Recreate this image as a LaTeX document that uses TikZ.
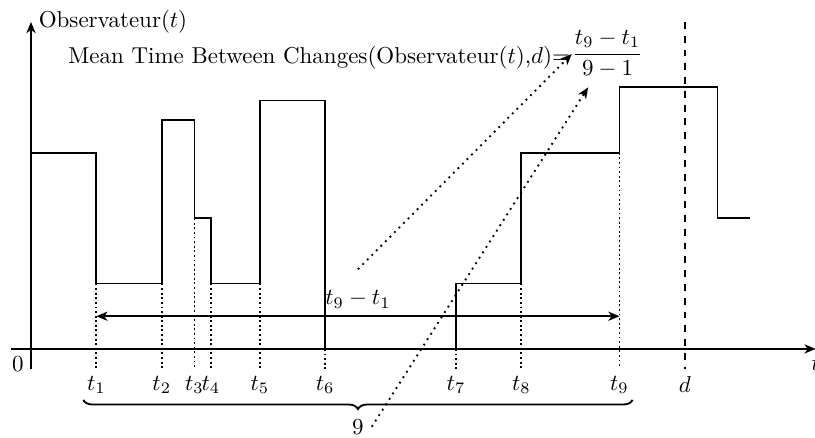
\documentclass[tikz,border=0pt]{standalone}
\usetikzlibrary{arrows.meta,decorations.pathreplacing}
\begin{document}
\begin{tikzpicture}[>={Stealth[length=1.7mm,width=1.4mm,inset=0.5mm]},
  axis/.style={thick,->},
  fn/.style={thick},
  guide/.style={line width=0.8pt,dash pattern=on 0.8pt off 1.2pt},
  ptr/.style={dotted,thick,->},
  lab/.style={inner sep=3pt}]
\useasboundingbox (-0.474,-1.361) rectangle (11.99,5.336);
% axes
\draw[axis] (-0.3,0) -- (12,0) node[below,lab] (tlab) {$t$};
\draw[axis] (0,-0.3) -- (0,5) node[right,lab] (ylab) {Observateur$(t)$};
\node[below left,lab] (zero) at (0,0) {$0$};
% function
\draw[fn] (0,3) -- (1,3) -- (1,1) -- (2,1) -- (2,3.5) -- (2.5,3.5) -- (2.5,2) -- (2.75,2) -- (2.75,1) -- (3.5,1) -- (3.5,3.8) -- (4.5,3.8) -- (4.5,0) -- (6.5,0) -- (6.5,1) -- (7.5,1) -- (7.5,3) -- (9,3) -- (9,4) -- (10.5,4) -- (10.5,2) -- (11,2);
% guides and labels
\foreach \x/\y/\n in {1/1/1, 2/1/2, 2.5/2/3, 2.75/1/4, 3.5/1/5, 4.5/0/6, 6.5/0/7, 7.5/1/8, 9/3/9}{
  \draw[guide] (\x,\y) -- (\x,-0.3) node[below,lab] (t\n) {$t_{\n}$};
}
\draw[thick,dashed] (10,5) -- (10,-0.3) node[below,lab] (dlab) {$d$};
% interval arrow
\draw[thick,<->] (1,0.5) -- (9,0.5) node[midway,above,lab] (diff) {$t_9-t_1$};
% brace
\draw[thick,decorate,decoration={brace,mirror,amplitude=4pt}] (0.8,-0.78) -- (9.2,-0.78);
\node (nine) at (5,-1.19) {$9$};
% formula
\node[anchor=base east,inner sep=0pt] (title) at (8.25,4.37) {Mean Time Between Changes(Observateur$(t)$,$d$)=};
\node[anchor=west,inner sep=0pt] (frac) at (8.27,4.51) {$\displaystyle\frac{t_9-t_1}{9-1}$};
\coordinate (fracden) at (8.52,4.0);
% pointers
\draw[ptr] ([yshift=6pt]diff.north) -- (frac.west);
\draw[ptr] (nine.east) -- (fracden);
\end{tikzpicture}
\end{document}
